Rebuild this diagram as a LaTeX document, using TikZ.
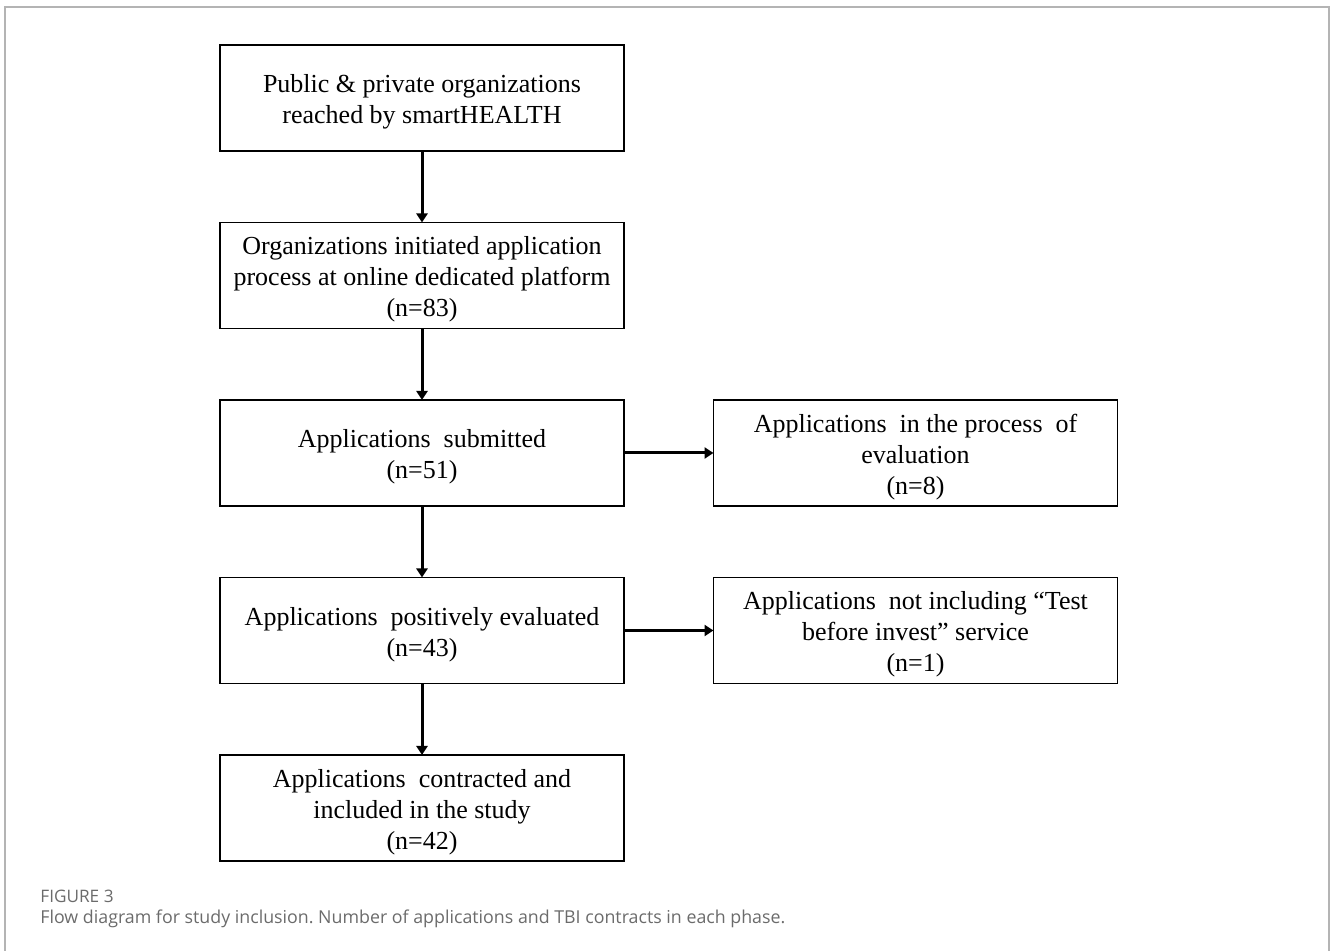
\documentclass[tikz,border=0pt]{standalone}
\usepackage{fontspec}
\setmainfont{Liberation Serif}
\newfontfamily\capfont{Open Sans}
\usetikzlibrary{arrows.meta,positioning}
\definecolor{framegray}{HTML}{B4B4B4}
\definecolor{capgray}{HTML}{6B6B6B}
\newcommand{\boxstrut}{\rule{0pt}{13pt}}
\frenchspacing
\tikzset{
  flowbox/.style={
    rectangle, draw=black, line width=0.75pt, outer sep=0pt,
    minimum width=202pt, minimum height=53pt,
    font=\fontsize{13}{15.5}\selectfont, align=center, inner sep=2pt
  },
  flowarrow/.style={
    -{Triangle[length=4.5pt,width=5.5pt]}, line width=1.5pt
  },
  captext/.style={
    font=\capfont\fontsize{8.6}{10}\selectfont, color=capgray, anchor=west, inner sep=0pt
  },
}
\begin{document}
\begin{tikzpicture}[x=0.5pt, y=-0.5pt]
  \useasboundingbox (0,0) rectangle (1330,951);
  % Outer frame (open at the bottom)
  \draw[framegray, line width=1pt] (4.5,951) -- (4.5,7.5) -- (1328.5,7.5) -- (1328.5,951);

  % Main column
  \node[flowbox] (reach) at (422,98) {\boxstrut Public \& private organizations\\reached by smartHEALTH};
  \node[flowbox, below=35.75pt of reach] (init) {\boxstrut Organizations initiated application\\process at online dedicated platform\\(n=83)};
  \node[flowbox, below=35.75pt of init] (subm) {\boxstrut Applications~~submitted\\(n=51)};
  \node[flowbox, below=35.75pt of subm] (posit) {\boxstrut Applications~~positively evaluated\\(n=43)};
  \node[flowbox, below=35.75pt of posit] (contr) {\boxstrut Applications~~contracted and\\included in the study\\(n=42)};

  % Side boxes
  \node[flowbox, right=44.75pt of subm] (evalu) {\boxstrut Applications~~in the process~~of\\evaluation\\(n=8)};
  \node[flowbox, right=44.75pt of posit] (notinc) {\boxstrut Applications~~not including ``Test\\before invest'' service\\(n=1)};

  % Arrows
  \draw[flowarrow] (reach) -- (init);
  \draw[flowarrow] (init) -- (subm);
  \draw[flowarrow] (subm) -- (posit);
  \draw[flowarrow] (posit) -- (contr);
  \draw[flowarrow] (subm) -- (evalu);
  \draw[flowarrow] (posit) -- (notinc);

  % Caption
  \node[captext] (fignum) at (40,896) {FIGURE 3};
  \node[captext, font=\capfont\fontsize{8.9}{11}\selectfont] (figcap) at (40,919) {Flow diagram for study inclusion. Number of applications and TBI contracts in each phase.};
\end{tikzpicture}
\end{document}
